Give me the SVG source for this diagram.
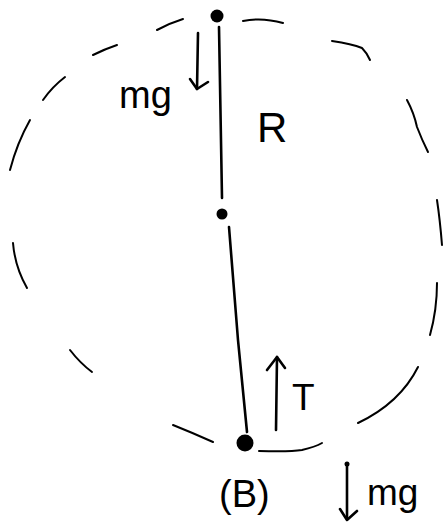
<svg xmlns="http://www.w3.org/2000/svg" width="445" height="527" viewBox="0 0 445 527">
<style>
.s{fill:none;stroke:#000;stroke-width:2.6;stroke-linecap:round;stroke-linejoin:round}
.d{fill:none;stroke:#000;stroke-width:2;stroke-linecap:round}
.t{font-family:"Liberation Sans",Arial,sans-serif;fill:#000}
</style>
<rect width="445" height="527" fill="#fff"/>
<g id="circle">
<path class="d" d="M157,30 Q170,23 183,19"/>
<path class="d" d="M243,21 Q262,17 283,23"/>
<path class="d" d="M93,55 Q105,49 117,45"/>
<path class="d" d="M332,41 Q352,44 362,48 Q367,53 370,60"/>
<path class="d" d="M43,100 Q52,87 65,77"/>
<path class="d" d="M407,100 Q414,113 417,127 Q422,140 428,152"/>
<path class="d" d="M10,170 Q17,143 30,120"/>
<path class="d" d="M437,200 Q440,220 442,245"/>
<path class="d" d="M13,243 Q15,267 27,288"/>
<path class="d" d="M437,283 Q437,310 430,335"/>
<path class="d" d="M70,350 Q80,363 92,372"/>
<path class="d" d="M418,367 Q400,403 358,423"/>
<path class="d" d="M173,425 Q193,433 213,442"/>
<path class="d" d="M259,451 Q290,452 302,450 Q315,447 322,443"/>
</g>
<g id="connectors">
<path class="s" d="M219,27 L222,198"/>
<path class="s" d="M229,227 L238,340 L247,432"/>
</g>
<g id="top-mass">
<circle cx="217" cy="16" r="6.5" fill="#000"/>
</g>
<g id="center">
<circle cx="222" cy="214" r="5.5" fill="#000"/>
</g>
<g id="bottom-mass">
<circle cx="245" cy="443" r="8.5" fill="#000"/>
</g>
<g id="force-mg-top">
<path class="s" d="M198,33 L197,89"/>
<path class="s" d="M190,79 L197,89 L208,82"/>
<text class="t" x="119" y="108" font-size="38">mg</text>
</g>
<g id="label-R">
<text class="t" x="257" y="142" font-size="42">R</text>
</g>
<g id="force-T">
<path class="s" d="M276,430 L277,357"/>
<path class="s" d="M267,370 L277,357 L285,368"/>
<text class="t" x="292" y="410" font-size="37">T</text>
</g>
<g id="label-B">
<text class="t" x="219" y="507" font-size="38">(B)</text>
</g>
<g id="force-mg-bottom">
<circle cx="347" cy="464" r="2.5" fill="#000"/>
<path class="s" d="M347,464 L347,519"/>
<path class="s" d="M340,509 L347,520 L357,511"/>
<text class="t" x="367" y="505" font-size="37">mg</text>
</g>
</svg>
